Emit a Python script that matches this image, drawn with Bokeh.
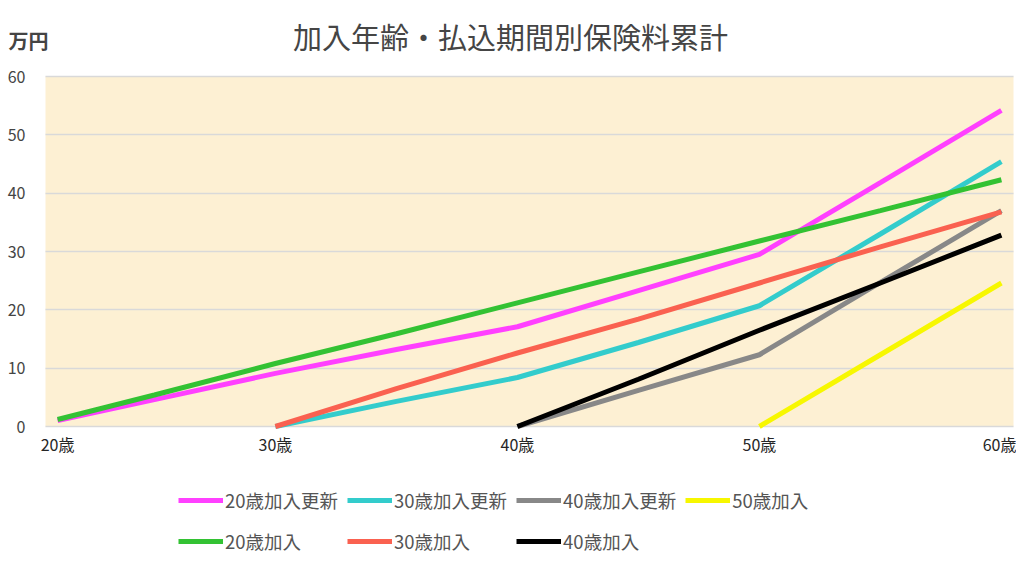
from bokeh.plotting import figure
from bokeh.models import Legend, LegendItem, Label, FixedTicker, Range1d
from bokeh.embed import file_html
from bokeh.resources import INLINE

FONT = "Noto Sans CJK JP"

title_text = "加入年齢・払込期間別保険料累計"
unit_text = "万円"

# ages (x) and cumulative premiums (万円) for each series
ages_20 = [21, 25, 30, 35, 40, 45, 50, 55, 60]
ages_30 = [30, 35, 40, 45, 50, 55, 60]
ages_40 = [40, 45, 50, 55, 60]
ages_50 = [50, 55, 60]

renew_20 = [1.0, 4.6, 9.1, 13.2, 17.1, 23.3, 29.5, 41.8, 54.2]
renew_30 = [0.0, 4.3, 8.4, 14.4, 20.7, 33.0, 45.4]
renew_40 = [0.0, 6.2, 12.3, 24.7, 37.0]
join_50 = [0.0, 12.3, 24.6]
join_20 = [1.2, 5.4, 10.8, 15.9, 21.2, 26.5, 31.8, 37.0, 42.3]
join_30 = [0.0, 6.5, 12.6, 18.4, 24.6, 30.8, 36.8]
join_40 = [0.0, 8.1, 16.5, 24.6, 32.8]

series_names = ["20歳加入更新", "30歳加入更新", "40歳加入更新", "50歳加入",
                "20歳加入", "30歳加入", "40歳加入"]
series_x = [ages_20, ages_30, ages_40, ages_50, ages_20, ages_30, ages_40]
series_y = [renew_20, renew_30, renew_40, join_50, join_20, join_30, join_40]
series_colors = ["#ff40ff", "#33cccc", "#888888", "#f7f700",
                 "#33c233", "#fa6150", "#000000"]

x_ticks = [21, 30, 40, 50, 60]
x_tick_labels = ["20歳", "30歳", "40歳", "50歳", "60歳"]
y_ticks = [0, 10, 20, 30, 40, 50, 60]

# ---- layout (pixels) ----
W, H = 1016, 560
PL, PR, PT, PB = 45, 1013, 76, 426          # plotting area box on the canvas
X0, X1 = ages_20[0] - 0.5, ages_20[-1] + 0.5  # data extent of plotting area
Y0, Y1 = y_ticks[0], y_ticks[-1]
sx = (PR - PL) / (X1 - X0)
sy = (PB - PT) / (Y1 - Y0)

def data_x(px):
    return X0 + (px - PL) / sx

def data_y(py):
    return Y0 + (PB - py) / sy

p = figure(width=W, height=H, output_backend="svg", toolbar_location=None,
           x_range=Range1d(data_x(0), data_x(W)),
           y_range=Range1d(data_y(H), data_y(0)),
           min_border=0)
p.background_fill_color = "white"
p.border_fill_color = "white"
p.outline_line_color = None
p.grid.visible = False

# cream plotting area
p.quad(left=[X0], right=[X1], bottom=[Y0], top=[Y1], fill_color="#fdf0d3",
       line_color=None, level="image")

# axes drawn at the plotting area's edges; y ticks reach across as grid lines
ax_x = p.xaxis[0]
ax_x.fixed_location = Y0
ax_x.ticker = FixedTicker(ticks=x_ticks)
ax_x.major_label_overrides = {t: l for t, l in zip(x_ticks, x_tick_labels)}
ax_x.axis_line_color = None
ax_x.major_tick_line_color = None
ax_x.major_tick_in = 0
ax_x.major_tick_out = 0
ax_x.minor_tick_line_color = None
ax_x.major_label_text_font = FONT
ax_x.major_label_text_font_size = "16px"
ax_x.major_label_text_color = "#262626"
ax_x.major_label_standoff = 5

ax_y = p.yaxis[0]
ax_y.fixed_location = X0
ax_y.level = "underlay"
ax_y.ticker = FixedTicker(ticks=y_ticks)
ax_y.axis_line_color = None
ax_y.major_tick_line_color = "#d9d9d9"
ax_y.major_tick_line_width = 1.5
ax_y.major_tick_in = PR - PL
ax_y.major_tick_out = 0
ax_y.minor_tick_line_color = None
ax_y.major_label_text_font = FONT
ax_y.major_label_text_font_size = "16px"
ax_y.major_label_text_color = "#444444"
ax_y.major_label_standoff = 20

items = []
for name, xs, ys, c in zip(series_names, series_x, series_y, series_colors):
    r = p.line(xs, ys, line_color=c, line_width=5)
    items.append(LegendItem(label=name, renderers=[r]))

legend = Legend(items=items, orientation="horizontal", nrows=2,
                location=(178, H - 557), glyph_width=45, glyph_height=32,
                label_standoff=2, spacing=9, padding=0, margin=0,
                label_text_font=FONT, label_text_font_size="18.5px",
                label_text_color="#555555", border_line_color=None,
                background_fill_alpha=0)
p.add_layout(legend, "center")

p.add_layout(Label(x=data_x(510), y=data_y(35), text=title_text, text_font=FONT,
                   text_font_size="29px", text_color="#454545",
                   text_align="center", text_baseline="middle"))
p.add_layout(Label(x=data_x(8), y=data_y(40), text=unit_text, text_font=FONT,
                   text_font_size="20px", text_color="#444444",
                   text_font_style="bold", text_align="left",
                   text_baseline="middle"))

open("out.html", "w").write(file_html(p, INLINE))
